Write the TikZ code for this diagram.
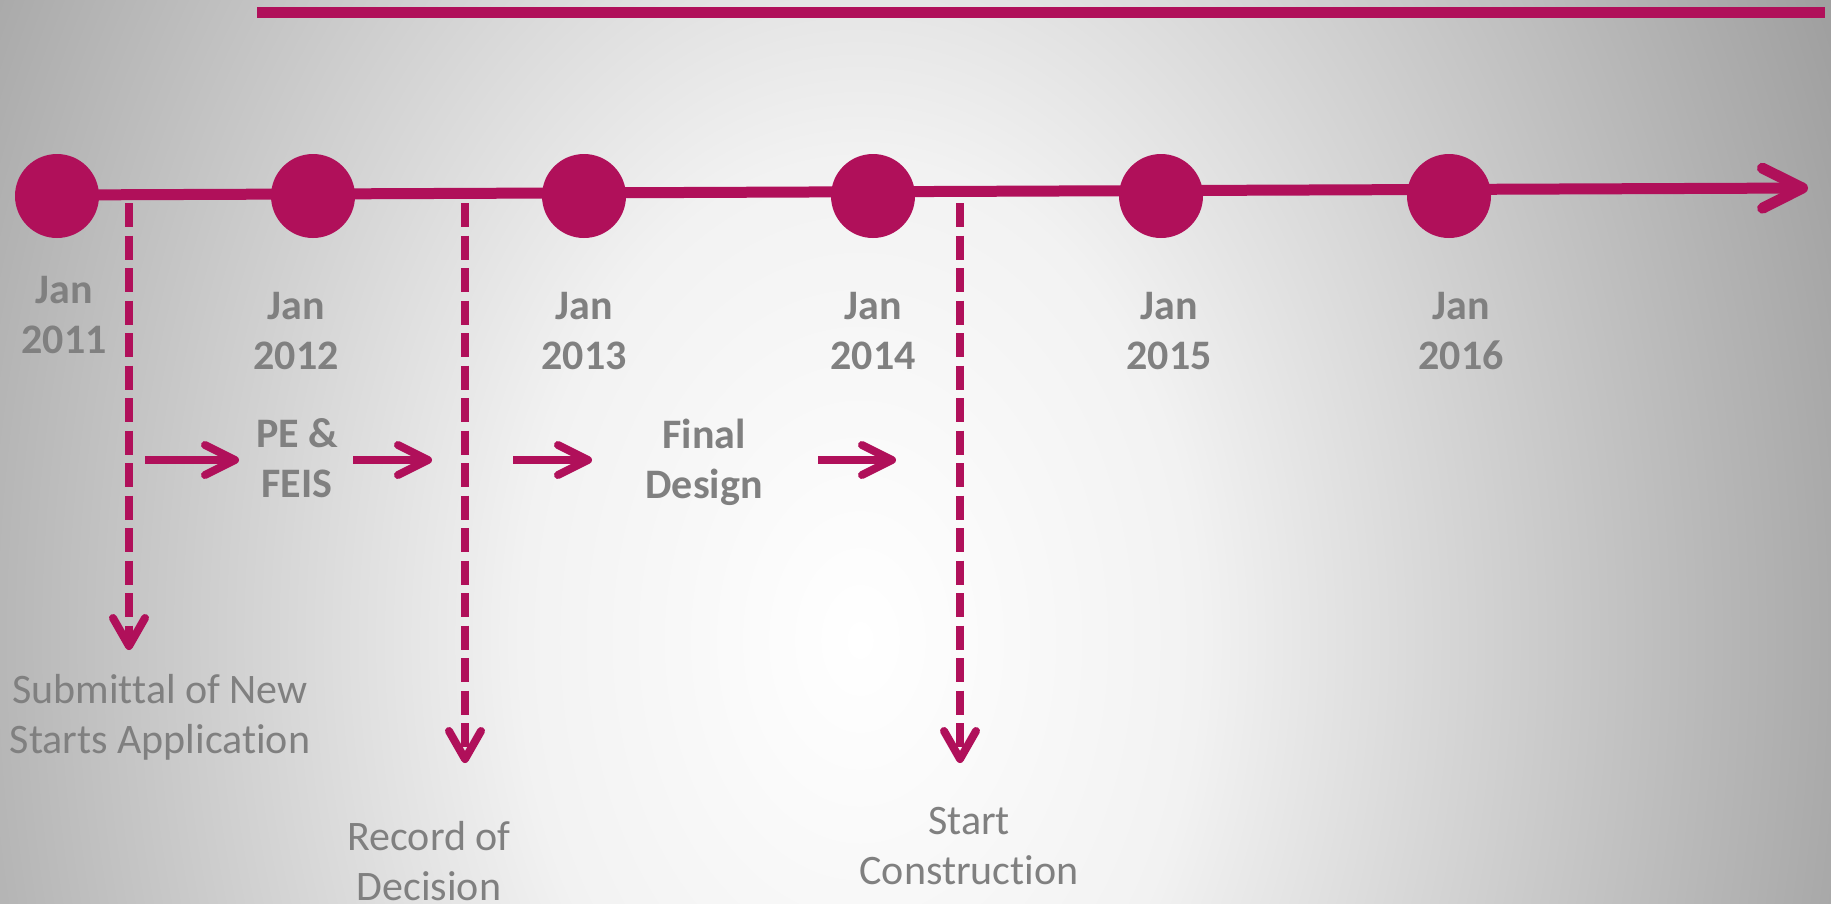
\documentclass[tikz,border=0pt]{standalone}
\usepackage{fontspec}
\setmainfont[Ligatures=NoCommon]{Carlito}
\usetikzlibrary{arrows.meta}
\definecolor{mag}{HTML}{B0105A}
\definecolor{txtgray}{HTML}{808080}
\definecolor{bggray}{HTML}{A0A0A0}
\definecolor{bgmid}{HTML}{F2F2F2}
\pgfdeclareradialshading{bgshade}{\pgfpoint{0bp}{0bp}}{color(0bp)=(white); color(8bp)=(bgmid); color(25bp)=(bggray); color(50bp)=(bggray)}
\begin{document}
\begin{tikzpicture}[x=1pt,y=-1pt,
  circ/.style={circle, fill=mag, minimum size=84pt, inner sep=0pt},
  datelbl/.style={font=\fontsize{42}{50}\selectfont\bfseries, text=txtgray, align=center, inner sep=0pt},
  evlbl/.style={font=\fontsize{42}{50}\selectfont, text=txtgray, align=center, inner sep=0pt},
  topbar/.style={draw=mag, line width=11pt},
  tline/.style={draw=mag, line width=11pt, -{Straight Barb[length=40pt, width=40pt, round]}},
  harrow/.style={draw=mag, line width=8pt, -{Straight Barb[length=30pt, width=30pt, round]}},
  darrow/.style={draw=mag, line width=8pt, dash pattern=on 24pt off 8.5pt, -{Straight Barb[length=28pt, width=32pt, round]}}
]
\useasboundingbox (0,0) rectangle (1831,903);
\fill[bggray] (0,0) rectangle (1831,903);
\begin{scope}
  \clip (0,0) rectangle (1831,903);
  \shade[shading=bgshade] (860,640) ellipse [x radius=1060, y radius=1500];
\end{scope}

% top bar
\coordinate (tb1) at (257,12);
\coordinate (tb2) at (1825,12);
\draw[topbar] (tb1) -- (tb2);

% timeline
\coordinate (tls) at (57,195);
\coordinate (tle) at (1808,188);
\draw[tline] (tls) -- (tle);

\node[circ] (c1) at (57,196) {};
\node[circ] (c2) at (313,196) {};
\node[circ] (c3) at (584,196) {};
\node[circ] (c4) at (873,196) {};
\node[circ] (c5) at (1161,196) {};
\node[circ] (c6) at (1449,196) {};

% date labels
\node[datelbl] (d1) at (64,315) {Jan\\2011};
\node[datelbl] (d2) at (296,331) {Jan\\2012};
\node[datelbl] (d3) at (584,331) {Jan\\2013};
\node[datelbl] (d4) at (873,331) {Jan\\2014};
\node[datelbl] (d5) at (1169,331) {Jan\\2015};
\node[datelbl] (d6) at (1461,331) {Jan\\2016};

% phase labels
\node[datelbl] (pe) at (297,458) {PE \&\\FEIS};
\node[datelbl] (fd) at (704,462) {Final\\Design};

% event labels
\node[evlbl] (ev1) at (160,717) {Submittal of New\\Starts Application};
\node[evlbl] (ev2) at (429,861) {Record of\\Decision};
\node[evlbl] (ev3) at (969,846) {Start\\Construction};

% dashed milestone arrows
\coordinate (m1s) at (129,203);
\coordinate (m1e) at (129,650);
\coordinate (m2s) at (465,203);
\coordinate (m2e) at (465,763);
\coordinate (m3s) at (960,203);
\coordinate (m3e) at (960,763);
\draw[darrow] (m1s) -- (m1e);
\draw[darrow] (m2s) -- (m2e);
\draw[darrow] (m3s) -- (m3e);

% horizontal phase arrows
\coordinate (a1s) at (145,460);
\coordinate (a1e) at (239,460);
\coordinate (a2s) at (353,460);
\coordinate (a2e) at (432,460);
\coordinate (a3s) at (513,460);
\coordinate (a3e) at (592,460);
\coordinate (a4s) at (818,460);
\coordinate (a4e) at (896,460);
\draw[harrow] (a1s) -- (a1e);
\draw[harrow] (a2s) -- (a2e);
\draw[harrow] (a3s) -- (a3e);
\draw[harrow] (a4s) -- (a4e);
\end{tikzpicture}
\end{document}
